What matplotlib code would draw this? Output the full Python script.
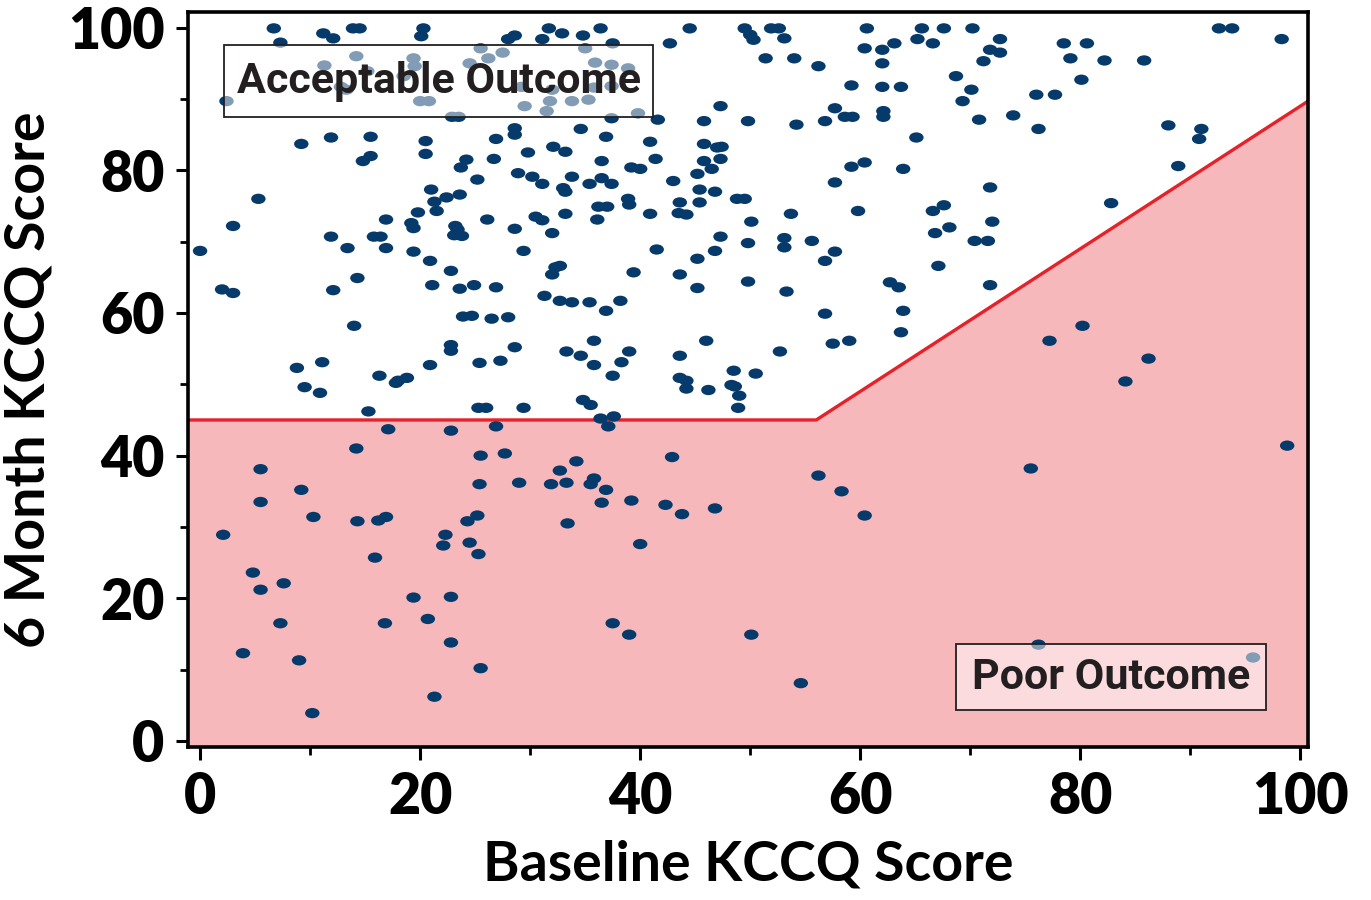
import matplotlib
matplotlib.use("Agg")
import matplotlib.pyplot as plt
from matplotlib.path import Path
from matplotlib.patches import Rectangle
from matplotlib.ticker import MultipleLocator

# ---------------------------------------------------------------------------
# Data: baseline KCCQ score vs 6 month KCCQ score (one entry per patient)
# ---------------------------------------------------------------------------
baseline = [
    # upper left block
    6.7, 7.3, 11.2, 12.1, 13.9, 14.5, 20.3, 20.1, 14.2, 11.3,
    15.2, 19.4, 19.5, 12.8, 13.3, 2.4, 20.0, 20.8, 18.5, 24.5,
    22.9, 23.5, 9.2, 11.9, 15.5, 20.5, 20.5, 15.5, 14.8, 24.2,
    23.7, 25.2, 5.3, 21.0, 22.4, 23.6, 21.3, 21.5, 19.8, 3.0,
    16.9, 19.2, 19.4, 11.9, 15.8, 16.4, 23.2, 23.4, 23.8, 23.1,
    0.0, 13.4, 16.9, 19.4, 20.9,
    # upper middle block
    31.7, 32.9, 28.6, 28.0, 31.1, 34.8, 36.4, 37.5, 42.7, 44.5,
    49.5, 50.0, 50.3, 25.5, 26.2, 27.5, 35.0, 35.9, 37.4, 38.9,
    29.2, 32.0, 35.8, 37.4, 29.5, 31.8, 33.8, 35.3, 31.5, 39.8,
    37.4, 41.6, 47.3, 45.8, 49.8, 28.6, 28.6, 26.9, 34.6, 36.9,
    40.9, 45.8, 47.0, 47.4, 26.7, 29.8, 32.1, 33.2, 36.5, 41.4,
    45.8, 46.5, 47.3, 39.2, 40.0, 28.9, 30.2, 31.1, 33.8, 33.0,
    33.2, 35.4, 36.5, 37.4, 43.0, 45.2, 45.4, 46.8, 48.8, 49.5,
    38.9, 39.0, 36.2, 37.0, 43.6, 43.5, 44.2, 45.4, 40.9, 33.2,
    30.5, 31.1, 26.1, 28.6, 36.1, 32.0, 50.1, 47.3, 49.8, 29.4,
    41.5, 46.8, 45.2,
    # upper right block
    51.9, 52.6, 53.1, 51.4, 54.0, 56.2, 60.6, 60.4, 62.0, 63.1,
    62.0, 65.6, 65.2, 66.6, 67.6, 70.2, 72.7, 71.8, 72.7, 71.2,
    68.7, 70.1, 69.3, 59.2, 62.0, 63.7, 57.7, 58.6, 59.3, 62.1,
    62.1, 54.2, 56.8, 70.8, 73.9, 65.1, 59.2, 60.4, 63.9, 57.7,
    71.8, 53.7, 59.8, 66.6, 67.6, 72.0, 66.8, 68.1, 70.4, 71.6,
    53.1, 53.1, 55.6, 57.7, 56.8,
    92.6, 93.8, 98.3, 78.5, 80.6, 79.1, 82.2, 85.8, 80.1, 76.0,
    77.7, 76.2, 88.0, 91.0, 90.8, 88.9, 82.8,
    # middle band
    22.8, 2.0, 3.0, 12.1, 14.3, 21.1, 23.6, 24.9, 14.0, 23.9,
    24.7, 22.8, 22.8, 25.4, 8.8, 11.1, 9.5, 10.9, 16.3, 17.8,
    18.0, 18.8, 20.9, 15.3, 25.3, 17.1, 22.8, 14.2, 5.5, 9.2,
    32.7, 32.3, 32.0, 39.4, 43.6, 45.2, 49.8, 26.9, 31.3, 32.7,
    33.8, 35.4, 36.9, 38.2, 26.5, 28.0, 28.6, 27.3, 33.3, 34.6,
    35.8, 35.8, 39.0, 38.3, 37.5, 43.6, 46.0, 43.6, 44.2, 44.2,
    46.2, 48.5, 50.5, 48.3, 48.6, 49.0, 48.9, 26.0, 29.4, 34.8,
    35.5, 36.4, 37.6, 26.9, 37.1, 25.5, 27.7, 42.9, 34.2, 32.7,
    25.4, 29.0, 31.9, 33.3, 35.8, 35.5, 36.9,
    # lower band
    36.5, 39.2, 42.3, 43.8, 46.8, 25.2, 24.3, 33.4, 24.5, 25.3,
    40.0, 37.5, 39.0, 50.1, 25.5,
    5.5, 10.3, 14.3, 16.2, 16.9, 22.3, 22.1, 2.1, 15.9, 4.8,
    5.5, 7.6, 19.4, 22.8, 7.3, 16.8, 20.7, 22.8, 3.9, 9.0,
    21.3, 10.2,
    # right side
    67.1, 53.3, 62.7, 63.5, 71.8, 56.8, 63.9, 63.7, 57.5, 59.0,
    52.7, 56.2, 58.3, 75.5, 80.2, 77.2, 86.2, 84.1, 98.8, 60.4,
    54.6, 76.2, 95.7,
]

six_month = [
    # upper left block
    99.9, 97.9, 99.2, 98.5, 99.9, 99.9, 99.9, 98.8, 96.0, 94.7,
    93.9, 95.7, 94.6, 91.7, 91.3, 89.7, 89.7, 89.7, 93.2, 95.0,
    87.5, 87.5, 83.7, 84.6, 84.7, 84.1, 82.3, 82.0, 81.3, 81.5,
    80.4, 78.7, 76.0, 77.3, 76.2, 76.6, 75.6, 74.3, 74.1, 72.2,
    73.1, 72.6, 71.9, 70.7, 70.7, 70.7, 72.2, 71.7, 70.8, 70.9,
    68.7, 69.1, 69.1, 68.6, 67.3,
    # upper middle block
    99.9, 99.2, 98.9, 98.4, 98.4, 98.9, 99.9, 97.8, 97.8, 99.9,
    99.9, 99.0, 98.3, 97.1, 95.7, 96.5, 97.1, 95.1, 94.8, 94.3,
    91.7, 91.3, 91.6, 91.8, 89.0, 89.7, 89.7, 89.9, 88.3, 88.0,
    87.3, 87.1, 89.0, 86.9, 86.9, 85.9, 85.0, 84.4, 85.8, 84.7,
    84.0, 83.7, 83.2, 83.3, 81.6, 82.5, 83.3, 82.6, 81.3, 81.6,
    81.3, 80.2, 81.6, 80.4, 80.2, 79.6, 79.1, 78.1, 79.1, 77.5,
    77.0, 78.1, 78.9, 78.1, 78.5, 79.5, 77.3, 77.0, 76.0, 76.0,
    76.0, 75.2, 74.9, 74.9, 75.5, 74.0, 73.8, 75.5, 73.9, 73.9,
    73.5, 73.0, 73.1, 71.8, 73.1, 71.2, 72.8, 70.7, 69.8, 68.7,
    68.9, 68.7, 67.6,
    # upper right block
    99.9, 99.9, 98.5, 95.7, 95.7, 94.6, 99.9, 97.1, 96.9, 97.8,
    95.0, 99.9, 98.4, 97.8, 99.9, 99.9, 98.4, 96.9, 96.5, 95.3,
    93.2, 91.3, 89.7, 91.9, 91.7, 91.7, 88.7, 87.5, 87.5, 88.3,
    87.5, 86.4, 86.9, 87.1, 87.7, 84.6, 80.5, 81.1, 80.2, 78.3,
    77.6, 73.9, 74.3, 74.3, 75.1, 72.8, 71.2, 72.0, 70.1, 70.1,
    70.5, 69.2, 70.1, 68.6, 67.3,
    99.9, 99.9, 98.4, 97.8, 97.8, 95.7, 95.4, 95.4, 92.7, 90.6,
    90.6, 85.8, 86.3, 85.8, 84.4, 80.6, 75.4,
    # middle band
    65.9, 63.3, 62.8, 63.2, 64.9, 63.9, 63.4, 63.9, 58.2, 59.5,
    59.6, 55.5, 54.7, 53.0, 52.3, 53.1, 49.6, 48.8, 51.2, 50.2,
    50.5, 50.9, 52.7, 46.2, 46.7, 43.7, 43.5, 41.0, 38.1, 35.2,
    66.6, 66.4, 65.4, 65.7, 65.4, 63.5, 64.4, 63.6, 62.4, 61.7,
    61.5, 61.5, 60.3, 61.7, 59.2, 59.4, 55.2, 53.3, 54.6, 54.0,
    56.1, 52.7, 54.6, 53.1, 51.2, 54.0, 56.1, 50.9, 50.5, 49.4,
    49.2, 51.9, 51.5, 49.9, 49.7, 48.4, 46.7, 46.7, 46.7, 47.8,
    47.1, 45.2, 45.5, 44.1, 44.1, 40.0, 40.3, 39.8, 39.2, 37.9,
    36.0, 36.2, 36.0, 36.2, 36.8, 36.0, 35.2,
    # lower band
    33.4, 33.7, 33.1, 31.8, 32.6, 31.6, 30.8, 30.5, 27.8, 26.2,
    27.6, 16.5, 14.9, 14.9, 10.2,
    33.5, 31.4, 30.8, 30.9, 31.4, 28.9, 27.4, 28.9, 25.7, 23.6,
    21.2, 22.1, 20.1, 20.2, 16.5, 16.5, 17.1, 13.8, 12.3, 11.3,
    6.2, 3.9,
    # right side
    66.6, 63.0, 64.3, 63.6, 63.9, 59.9, 60.3, 57.3, 55.7, 56.1,
    54.6, 37.2, 35.0, 38.2, 58.2, 56.1, 53.6, 50.4, 41.4, 31.6,
    8.1, 13.5, 11.7,
]

# threshold separating acceptable from poor outcome
threshold_x = [-5, 56, 101]
threshold_y = [45, 45, 90]

x_ticks = [0, 20, 40, 60, 80, 100]
y_ticks = [0, 20, 40, 60, 80, 100]

# ---------------------------------------------------------------------------
# Style
# ---------------------------------------------------------------------------
DOT = "#053a6b"
PINK = "#f7b8bc"
RED = "#e62129"
INK = "#231f20"
LABEL_FONT = ["Lato", "DejaVu Sans"]
BOX_FONT = ["Roboto", "DejaVu Sans"]

# ellipse marker, wider than tall
circle = Path.unit_circle()
ellipse = Path(circle.vertices * [1.4, 1.0], circle.codes)

fig = plt.figure(figsize=(13.71, 9), dpi=100)
ax = fig.add_axes([0.1371, 0.17, 0.817, 0.8167])

ax.fill_between(threshold_x, threshold_y, -10, color=PINK, lw=0, zorder=1)
ax.plot(threshold_x, threshold_y, color=RED, lw=2.4, zorder=2)
ax.scatter(baseline, six_month, s=108, marker=ellipse, color=DOT,
           edgecolors="none", zorder=3)

# annotation boxes (semi-transparent so dots show through faintly)
ax.add_patch(Rectangle((2.2, 87.5), 39.0, 10.0, facecolor=(1, 1, 1, 0.5),
                       edgecolor=INK, lw=1.3, zorder=4))
ax.text(21.7, 92.4, "Acceptable Outcome", ha="center", va="center",
        fontsize=31, fontweight="bold", family=BOX_FONT, color=INK, zorder=5)
ax.add_patch(Rectangle((68.7, 4.35), 28.2, 9.25, facecolor=(1, 1, 1, 0.5),
                       edgecolor=INK, lw=1.3, zorder=4))
ax.text(82.8, 8.9, "Poor Outcome", ha="center", va="center",
        fontsize=31, fontweight="bold", family=BOX_FONT, color=INK, zorder=5)

ax.set_xlim(-1.1, 100.7)
ax.set_ylim(-0.85, 102.2)
ax.set_xticks(x_ticks)
ax.set_yticks(y_ticks)
ax.xaxis.set_minor_locator(MultipleLocator(10))
ax.yaxis.set_minor_locator(MultipleLocator(10))
ax.tick_params(which="major", direction="out", length=9, width=2.2, pad=8,
               labelsize=40, colors="black")
ax.tick_params(which="minor", direction="out", length=6, width=2.0)
for lab in ax.get_xticklabels() + ax.get_yticklabels():
    lab.set_family(LABEL_FONT)
    lab.set_fontweight("heavy")
for sp in ax.spines.values():
    sp.set_linewidth(2.6)
    sp.set_zorder(6)

ax.set_xlabel("Baseline KCCQ Score", fontsize=40, fontweight="bold",
              family=LABEL_FONT, labelpad=12)
ax.set_ylabel("6 Month KCCQ Score", fontsize=40, fontweight="bold",
              family=LABEL_FONT, labelpad=10)

fig.savefig("out.png", dpi=100)
